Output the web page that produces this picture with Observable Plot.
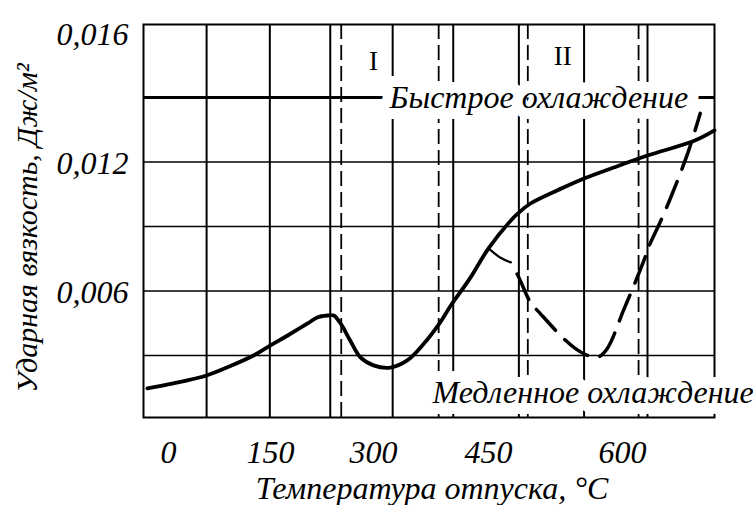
<!DOCTYPE html>
<html><head><meta charset="utf-8">
<script src="https://cdn.jsdelivr.net/npm/d3@7"></script>
<script src="https://cdn.jsdelivr.net/npm/@observablehq/plot@0.6"></script>
<style>body{margin:0;background:#fff}</style>
</head><body><div id="chart"></div>
<script>
// Fast cooling (solid) — temperature °C, impact toughness
const fastTemp = [-31, 7, 56, 91, 125, 150, 175, 204, 218, 233, 242, 252, 266, 281, 300, 322, 344, 365, 387, 400, 426, 450, 475, 483, 497, 534, 557, 590, 628, 681, 703];
const fastKCU  = [0.00147, 0.00170, 0.00207, 0.00251, 0.00300, 0.00347, 0.00393, 0.00449, 0.00477, 0.00486, 0.00486, 0.00449, 0.00370, 0.00291, 0.00254, 0.00244, 0.00277, 0.00352, 0.00454, 0.00528, 0.00660, 0.00798, 0.00928, 0.00961, 0.01007, 0.01081, 0.01123, 0.01174, 0.01230, 0.01300, 0.01347];
// Slow cooling (dashed), branching from the fast curve
const slowTemp = [450, 463, 475, 484, 497, 508, 534, 547, 561, 572, 583, 601, 609, 624, 629, 643, 654, 673, 687];
const slowKCU  = [0.00798, 0.00756, 0.00733, 0.00663, 0.00547, 0.00495, 0.00379, 0.00333, 0.00300, 0.00291, 0.00333, 0.00509, 0.00588, 0.00742, 0.00802, 0.00928, 0.01035, 0.01240, 0.01426];

const xTickValues = [0, 150, 300, 450, 600];
const xTickLabels = ["0", "150", "300", "450", "600"];
const yTickValues = [0.006, 0.012, 0.018];
const yTickLabels = ["0,006", "0,012", "0,016"];
const gridTemps = [56, 149, 237, 325, 404, 484, 557, 628];
const zoneBounds = [253, 385, 494, 618];
const gridKCU = [0.003, 0.006, 0.009, 0.012];
const fastMarkerKCU = [0.015];
const zoneNames = ["I", "II"];
const zoneNameTemp = [300, 533];
const zoneNameKCU = [0.0167, 0.0169];
const notes = ["Быстрое охлаждение", "Медленное охлаждение"];
const noteTemp = [321, 377];
const noteKCU = [0.01449, 0.00077];
const xTitle = "Температура отпуска, °C";
const yTitle = "Ударная вязкость, Дж/м²";

const fast = fastTemp.map((t, i) => ({t, v: fastKCU[i]}));
const slow = slowTemp.map((t, i) => ({t, v: slowKCU[i]}));
const zones = zoneNames.map((s, i) => ({s, t: zoneNameTemp[i], v: zoneNameKCU[i]}));
const noteData = notes.map((s, i) => ({s, t: noteTemp[i], v: noteKCU[i]}));
const serif = "'Liberation Serif','Times New Roman',serif";

// the printed temperature axis is not uniform: piecewise-linear warp of °C
const warp = d3.scaleLinear().domain([0, 150, 300, 450, 600]).range([0, 102, 205, 320, 454]);

const chart = Plot.plot({
  width: 753, height: 505,
  marginLeft: 143, marginRight: 39, marginTop: 24, marginBottom: 88,
  style: {fontFamily: serif, fontStyle: "italic", fontSize: "32px", background: "white", color: "black", overflow: "visible"},
  x: {transform: warp, domain: [warp(-36.8), warp(703)], axis: null},
  y: {domain: [0.000116, 0.018395], axis: null},
  marks: [
    Plot.ruleX(gridTemps, {stroke: "black", strokeWidth: 2}),
    Plot.ruleX(zoneBounds, {stroke: "black", strokeWidth: 1.8, strokeDasharray: "15,6"}),
    Plot.ruleY(gridKCU, {stroke: "black", strokeWidth: 1.7}),
    Plot.ruleY(fastMarkerKCU, {stroke: "black", strokeWidth: 3}),
    Plot.line(fast, {x: "t", y: "v", stroke: "black", strokeWidth: 3.8, curve: "catmull-rom"}),
    Plot.line(slow.slice(0, 3), {x: "t", y: "v", stroke: "black", strokeWidth: 2.2, curve: "catmull-rom"}),
    Plot.line(slow.slice(2), {x: "t", y: "v", stroke: "black", strokeWidth: 3.5, curve: "catmull-rom", strokeDasharray: "28,13", strokeDashoffset: 28}),
    Plot.frame({stroke: "black", strokeWidth: 2}),
    Plot.text(xTickValues, {x: d => d, text: (d, i) => xTickLabels[i], frameAnchor: "bottom", dy: 45, lineAnchor: "bottom", fontSize: 32, fill: "black"}),
    Plot.text(yTickValues, {y: d => d, text: (d, i) => yTickLabels[i], frameAnchor: "left", textAnchor: "end", dx: -15, dy: 2, fontSize: 32, fill: "black"}),
    Plot.text(zones, {x: "t", y: "v", text: "s", fontStyle: "normal", fontSize: 27, fill: "black"}),
    Plot.text(noteData, {x: "t", y: "v", text: "s", textAnchor: "start", lineAnchor: "bottom", fontSize: 32, fill: "black", stroke: "white", strokeWidth: 22, strokeLinejoin: "round", paintOrder: "stroke"}),
    Plot.text([xTitle], {text: d => d, frameAnchor: "bottom", textAnchor: "middle", dx: 3, dy: 81, lineAnchor: "bottom", fontSize: 32, fill: "black"}),
    Plot.text([yTitle], {text: d => d, frameAnchor: "left", textAnchor: "middle", rotate: -90, dx: -116, dy: 7, fontSize: 30, fill: "black"})
  ]
});
document.getElementById("chart").append(chart);
</script>
</body></html>
